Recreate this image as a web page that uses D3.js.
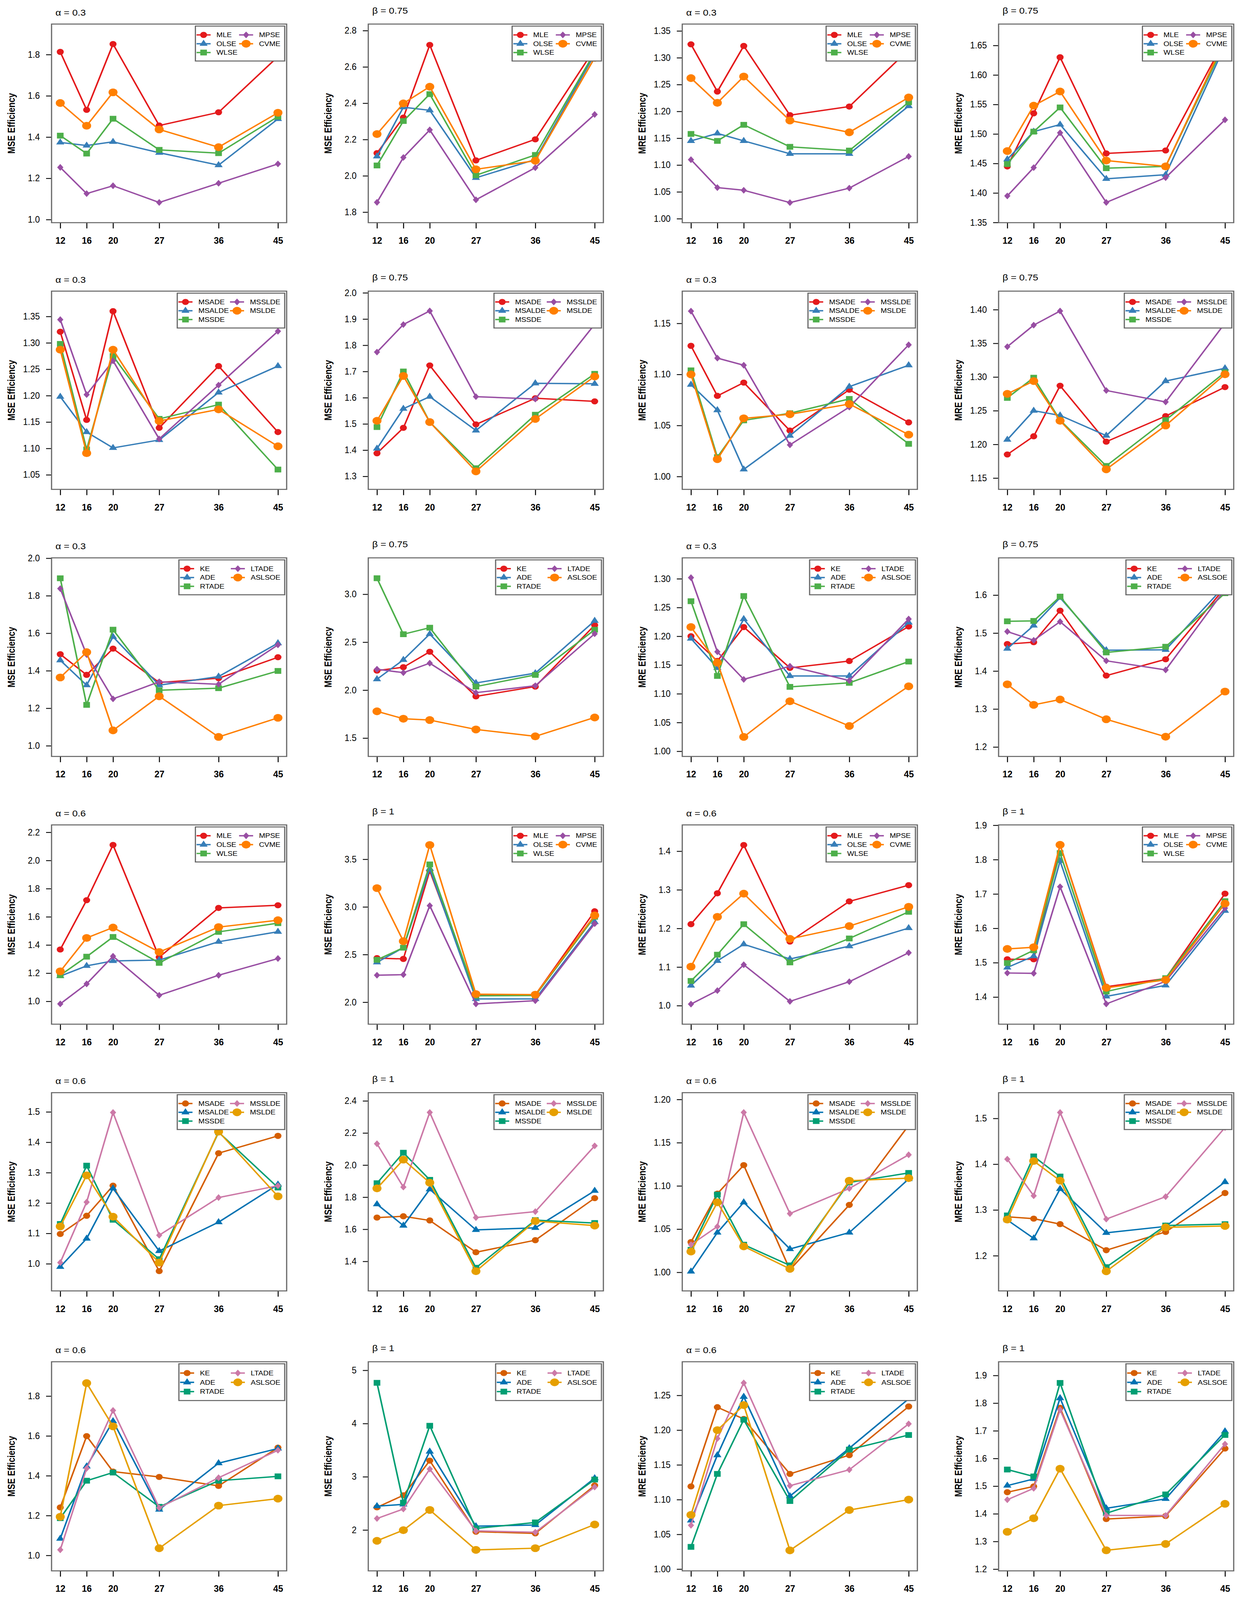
<!DOCTYPE html>
<html>
<head>
<meta charset="utf-8">
<script src="https://cdn.jsdelivr.net/npm/d3@7"></script>
<style>
  body { margin: 0; background: #fff; overflow: hidden; }
  svg { display: block; }
</style>
</head>
<body>
<div id="chart"></div>
<script>
// sample sizes on the x axis
const sampleSizes = [12, 16, 20, 27, 36, 45];

// estimator names (legend order)
const namesClassic  = ["MLE", "OLSE", "WLSE", "MPSE", "CVME"];
const namesMinDist  = ["MSADE", "MSALDE", "MSSDE", "MSSLDE", "MSLDE"];
const namesAnderson = ["KE", "ADE", "RTADE", "LTADE", "ASLSOE"];

const set1Colors  = ["#E41A1C", "#377EB8", "#4DAF4A", "#984EA3", "#FF7F00"];
const okabeColors = ["#D55E00", "#0072B2", "#009E73", "#CC79A7", "#E69F00"];

// ---- row 1 : classic estimators, alpha = 0.3 / beta = 0.75
const mseAlpha03Classic = [
  [1.813, 1.532, 1.851, 1.456, 1.520, 1.790],
  [1.374, 1.359, 1.377, 1.324, 1.264, 1.488],
  [1.407, 1.320, 1.489, 1.338, 1.322, 1.499],
  [1.253, 1.126, 1.164, 1.083, 1.176, 1.270],
  [1.565, 1.455, 1.617, 1.437, 1.351, 1.518]];
const mseBeta075Classic = [
  [2.125, 2.321, 2.721, 2.085, 2.201, 2.700],
  [2.107, 2.378, 2.361, 1.989, 2.090, 2.670],
  [2.057, 2.302, 2.450, 2.003, 2.115, 2.680],
  [1.854, 2.101, 2.253, 1.868, 2.045, 2.338],
  [2.230, 2.399, 2.491, 2.036, 2.083, 2.650]];
const mreAlpha03Classic = [
  [1.325, 1.237, 1.322, 1.193, 1.209, 1.315],
  [1.145, 1.159, 1.145, 1.121, 1.121, 1.210],
  [1.158, 1.145, 1.175, 1.134, 1.127, 1.217],
  [1.110, 1.058, 1.053, 1.030, 1.057, 1.116],
  [1.262, 1.216, 1.265, 1.183, 1.161, 1.226]];
const mreBeta075Classic = [
  [1.445, 1.535, 1.630, 1.467, 1.472, 1.660],
  [1.457, 1.504, 1.516, 1.424, 1.431, 1.650],
  [1.449, 1.504, 1.545, 1.442, 1.445, 1.655],
  [1.395, 1.443, 1.502, 1.384, 1.426, 1.524],
  [1.471, 1.548, 1.572, 1.455, 1.445, 1.660]];

// ---- row 2 : minimum distance estimators, alpha = 0.3 / beta = 0.75
const mseAlpha03MinDist = [
  [1.321, 1.154, 1.360, 1.139, 1.256, 1.131],
  [1.198, 1.131, 1.101, 1.116, 1.206, 1.256],
  [1.298, 1.098, 1.275, 1.156, 1.183, 1.060],
  [1.344, 1.202, 1.266, 1.118, 1.220, 1.322],
  [1.287, 1.091, 1.287, 1.152, 1.174, 1.104]];
const mseBeta075MinDist = [
  [1.388, 1.485, 1.723, 1.498, 1.598, 1.586],
  [1.406, 1.558, 1.604, 1.475, 1.655, 1.653],
  [1.488, 1.700, 1.507, 1.331, 1.535, 1.691],
  [1.774, 1.879, 1.931, 1.604, 1.595, 1.880],
  [1.512, 1.683, 1.507, 1.319, 1.519, 1.681]];
const mreAlpha03MinDist = [
  [1.128, 1.079, 1.092, 1.045, 1.085, 1.053],
  [1.090, 1.065, 1.007, 1.040, 1.088, 1.109],
  [1.104, 1.019, 1.055, 1.062, 1.076, 1.032],
  [1.162, 1.116, 1.109, 1.031, 1.068, 1.129],
  [1.100, 1.017, 1.057, 1.061, 1.071, 1.041]];
const mreBeta075MinDist = [
  [1.185, 1.212, 1.287, 1.204, 1.242, 1.285],
  [1.207, 1.250, 1.243, 1.213, 1.294, 1.313],
  [1.269, 1.299, 1.236, 1.168, 1.236, 1.307],
  [1.345, 1.377, 1.398, 1.280, 1.263, 1.380],
  [1.275, 1.294, 1.235, 1.163, 1.228, 1.304]];

// ---- row 3 : Anderson-Darling type estimators, alpha = 0.3 / beta = 0.75
const mseAlpha03Anderson = [
  [1.488, 1.378, 1.518, 1.337, 1.360, 1.472],
  [1.456, 1.323, 1.581, 1.323, 1.369, 1.547],
  [1.893, 1.218, 1.619, 1.296, 1.307, 1.399],
  [1.838, 1.486, 1.250, 1.341, 1.328, 1.538],
  [1.364, 1.499, 1.082, 1.264, 1.047, 1.149]];
const mseBeta075Anderson = [
  [2.204, 2.239, 2.400, 1.935, 2.037, 2.678],
  [2.114, 2.316, 2.585, 2.075, 2.177, 2.723],
  [3.167, 2.583, 2.651, 2.037, 2.159, 2.630],
  [2.218, 2.182, 2.281, 1.974, 2.046, 2.588],
  [1.779, 1.702, 1.688, 1.590, 1.518, 1.715]];
const mreAlpha03Anderson = [
  [1.200, 1.157, 1.216, 1.145, 1.157, 1.217],
  [1.196, 1.145, 1.230, 1.131, 1.131, 1.224],
  [1.261, 1.131, 1.270, 1.112, 1.119, 1.156],
  [1.302, 1.173, 1.125, 1.148, 1.123, 1.230],
  [1.216, 1.154, 1.025, 1.087, 1.044, 1.113]];
const mreBeta075Anderson = [
  [1.471, 1.476, 1.559, 1.388, 1.431, 1.620],
  [1.459, 1.520, 1.593, 1.455, 1.456, 1.625],
  [1.531, 1.532, 1.596, 1.449, 1.464, 1.605],
  [1.504, 1.481, 1.530, 1.427, 1.403, 1.615],
  [1.365, 1.311, 1.325, 1.273, 1.227, 1.346]];

// ---- row 4 : classic estimators, alpha = 0.6 / beta = 1
const mseAlpha06Classic = [
  [1.368, 1.718, 2.110, 1.313, 1.663, 1.682],
  [1.179, 1.252, 1.287, 1.293, 1.423, 1.494],
  [1.185, 1.317, 1.457, 1.273, 1.493, 1.555],
  [0.982, 1.124, 1.320, 1.043, 1.185, 1.304],
  [1.213, 1.450, 1.524, 1.350, 1.527, 1.576]];
const mseBeta1Classic = [
  [2.463, 2.454, 3.379, 2.079, 2.076, 2.954],
  [2.418, 2.572, 3.401, 2.034, 2.034, 2.842],
  [2.445, 2.572, 3.446, 2.067, 2.070, 2.896],
  [2.283, 2.289, 3.013, 1.982, 2.016, 2.824],
  [3.197, 2.640, 3.650, 2.085, 2.079, 2.911]];
const mreAlpha06Classic = [
  [1.211, 1.291, 1.416, 1.166, 1.270, 1.312],
  [1.052, 1.116, 1.159, 1.121, 1.154, 1.201],
  [1.064, 1.132, 1.211, 1.112, 1.174, 1.243],
  [1.004, 1.039, 1.106, 1.011, 1.062, 1.137],
  [1.101, 1.230, 1.290, 1.173, 1.206, 1.256]];
const mreBeta1Classic = [
  [1.510, 1.510, 1.843, 1.430, 1.454, 1.701],
  [1.486, 1.519, 1.796, 1.402, 1.434, 1.651],
  [1.499, 1.536, 1.819, 1.416, 1.455, 1.679],
  [1.470, 1.469, 1.721, 1.380, 1.446, 1.659],
  [1.540, 1.545, 1.843, 1.427, 1.450, 1.672]];

// ---- row 5 : minimum distance estimators, alpha = 0.6 / beta = 1
const mseAlpha06MinDist = [
  [1.098, 1.158, 1.257, 0.976, 1.364, 1.421],
  [0.990, 1.083, 1.248, 1.042, 1.137, 1.261],
  [1.131, 1.323, 1.145, 1.015, 1.433, 1.251],
  [1.004, 1.203, 1.498, 1.094, 1.218, 1.257],
  [1.123, 1.291, 1.155, 1.004, 1.435, 1.222]];
const mseBeta1MinDist = [
  [1.673, 1.681, 1.655, 1.457, 1.532, 1.794],
  [1.756, 1.623, 1.849, 1.596, 1.609, 1.840],
  [1.887, 2.077, 1.908, 1.360, 1.657, 1.639],
  [2.133, 1.863, 2.328, 1.673, 1.710, 2.120],
  [1.855, 2.034, 1.890, 1.339, 1.651, 1.623]];
const mreAlpha06MinDist = [
  [1.035, 1.091, 1.124, 1.003, 1.078, 1.170],
  [1.001, 1.046, 1.081, 1.027, 1.046, 1.108],
  [1.026, 1.090, 1.032, 1.008, 1.104, 1.115],
  [1.032, 1.053, 1.185, 1.068, 1.097, 1.136],
  [1.024, 1.081, 1.030, 1.004, 1.106, 1.109]];
const mreBeta1MinDist = [
  [1.285, 1.281, 1.269, 1.212, 1.252, 1.337],
  [1.278, 1.238, 1.346, 1.250, 1.264, 1.361],
  [1.288, 1.417, 1.373, 1.175, 1.266, 1.269],
  [1.411, 1.331, 1.513, 1.280, 1.329, 1.480],
  [1.279, 1.407, 1.364, 1.166, 1.262, 1.265]];

// ---- row 6 : Anderson-Darling type estimators, alpha = 0.6 / beta = 1
const mseAlpha06Anderson = [
  [1.241, 1.599, 1.421, 1.394, 1.349, 1.541],
  [1.084, 1.447, 1.674, 1.230, 1.463, 1.537],
  [1.187, 1.375, 1.416, 1.244, 1.375, 1.397],
  [1.028, 1.437, 1.728, 1.239, 1.390, 1.528],
  [1.194, 1.865, 1.648, 1.036, 1.250, 1.285]];
const mseBeta1Anderson = [
  [2.426, 2.652, 3.303, 1.968, 1.936, 2.836],
  [2.448, 2.481, 3.474, 2.071, 2.094, 2.974],
  [4.765, 2.513, 3.958, 2.029, 2.142, 2.948],
  [2.216, 2.394, 3.145, 1.984, 1.958, 2.807],
  [1.797, 1.997, 2.377, 1.626, 1.658, 2.103]];
const mreAlpha06Anderson = [
  [1.119, 1.233, 1.216, 1.137, 1.164, 1.234],
  [1.070, 1.164, 1.248, 1.105, 1.174, 1.245],
  [1.032, 1.137, 1.215, 1.098, 1.172, 1.193],
  [1.063, 1.188, 1.268, 1.120, 1.143, 1.209],
  [1.078, 1.200, 1.236, 1.027, 1.085, 1.100]];
const mreBeta1Anderson = [
  [1.478, 1.499, 1.783, 1.381, 1.392, 1.636],
  [1.502, 1.526, 1.818, 1.420, 1.454, 1.698],
  [1.560, 1.535, 1.873, 1.402, 1.470, 1.685],
  [1.451, 1.492, 1.776, 1.394, 1.394, 1.652],
  [1.335, 1.384, 1.563, 1.268, 1.291, 1.436]];

// y axis limits (as drawn) and tick labels, panel by panel (row by row)
const yLimits = [
  [0.985, 1.948], [1.742, 2.836], [0.9926, 1.3628], [1.3497, 1.6863],
  [1.0224, 1.398], [1.2503, 2.0065], [0.9874, 1.1816], [1.1332, 1.4275],
  [0.943, 2.002], [1.3085, 3.3795], [0.991, 1.3364], [1.1751, 1.6981],
  [0.8378, 2.2524], [1.7692, 3.8606], [0.952, 1.4681], [1.321, 1.901],
  [0.9107, 1.5633], [1.216, 2.4513], [0.9785, 1.2079], [1.1231, 1.5563],
  [0.9224, 1.9724], [1.2323, 5.161], [0.9975, 1.2984], [1.1938, 1.9496]];
const yTickLabels = [
  ["1.0","1.2","1.4","1.6","1.8"], ["1.8","2.0","2.2","2.4","2.6","2.8"],
  ["1.00","1.05","1.10","1.15","1.20","1.25","1.30","1.35"], ["1.35","1.40","1.45","1.50","1.55","1.60","1.65"],
  ["1.05","1.10","1.15","1.20","1.25","1.30","1.35"], ["1.3","1.4","1.5","1.6","1.7","1.8","1.9","2.0"],
  ["1.00","1.05","1.10","1.15"], ["1.15","1.20","1.25","1.30","1.35","1.40"],
  ["1.0","1.2","1.4","1.6","1.8","2.0"], ["1.5","2.0","2.5","3.0"],
  ["1.00","1.05","1.10","1.15","1.20","1.25","1.30"], ["1.2","1.3","1.4","1.5","1.6"],
  ["1.0","1.2","1.4","1.6","1.8","2.0","2.2"], ["2.0","2.5","3.0","3.5"],
  ["1.0","1.1","1.2","1.3","1.4"], ["1.4","1.5","1.6","1.7","1.8","1.9"],
  ["1.0","1.1","1.2","1.3","1.4","1.5"], ["1.4","1.6","1.8","2.0","2.2","2.4"],
  ["1.00","1.05","1.10","1.15","1.20"], ["1.2","1.3","1.4","1.5"],
  ["1.0","1.2","1.4","1.6","1.8"], ["2","3","4","5"],
  ["1.00","1.05","1.10","1.15","1.20","1.25"], ["1.2","1.3","1.4","1.5","1.6","1.7","1.8","1.9"]];

const rowParams = [["α = 0.3", "β = 0.75"], ["α = 0.3", "β = 0.75"], ["α = 0.3", "β = 0.75"],
                   ["α = 0.6", "β = 1"], ["α = 0.6", "β = 1"], ["α = 0.6", "β = 1"]];
const rowNames  = [namesClassic, namesMinDist, namesAnderson, namesClassic, namesMinDist, namesAnderson];
const rowColors = [set1Colors, set1Colors, set1Colors, set1Colors, okabeColors, okabeColors];
const colLabels = ["MSE Efficiency", "MSE Efficiency", "MRE Efficiency", "MRE Efficiency"];

const panelData = [
  mseAlpha03Classic, mseBeta075Classic, mreAlpha03Classic, mreBeta075Classic,
  mseAlpha03MinDist, mseBeta075MinDist, mreAlpha03MinDist, mreBeta075MinDist,
  mseAlpha03Anderson, mseBeta075Anderson, mreAlpha03Anderson, mreBeta075Anderson,
  mseAlpha06Classic, mseBeta1Classic, mreAlpha06Classic, mreBeta1Classic,
  mseAlpha06MinDist, mseBeta1MinDist, mreAlpha06MinDist, mreBeta1MinDist,
  mseAlpha06Anderson, mseBeta1Anderson, mreAlpha06Anderson, mreBeta1Anderson];

// layout, in the coordinates of the 3170 x 4721 original
const width = 3170, height = 4721;
const boxLeft = [132, 943, 1747, 2557];
const boxWidth = 602;
const rowTop = [71, 859, 1646, 2434, 3224, 4018];
const rowHeight = [586, 585, 586, 588, 585, 617];
const shapes = ["circle", "triangle", "square", "diamond", "bigcircle"];
const SANS = "'Liberation Sans',Arial,Helvetica,sans-serif";
const frameColor = "#666";

// the window may be shorter than the figure: fit the whole figure into it
const viewH = Math.min(height, window.innerHeight || height);

var svg = d3.select('#chart')
  .append('svg')
  .attr('width', width)
  .attr('height', viewH)
  .attr('viewBox', `0 0 ${width} ${height}`)
  .attr('preserveAspectRatio', 'none')
  .style('background', '#fff');

// squeeze text horizontally to mimic a narrow face (Helvetica Narrow)
function narrow(sel) {
  sel.each(function() {
    const w = this.getComputedTextLength();
    d3.select(this).attr('textLength', w * 0.82).attr('lengthAdjust', 'spacingAndGlyphs');
  });
}

function drawMarker(g, shape, cx, cy, color) {
  if (shape === "circle" || shape === "bigcircle") {
    g.append('circle').attr('cx', cx).attr('cy', cy)
      .attr('r', shape === "circle" ? 9 : 11.5).attr('fill', color);
  } else if (shape === "triangle") {
    g.append('path')
      .attr('d', `M${cx},${cy - 12}L${cx + 10.5},${cy + 6}L${cx - 10.5},${cy + 6}Z`)
      .attr('fill', color);
  } else if (shape === "square") {
    g.append('rect').attr('x', cx - 8.5).attr('y', cy - 8.5)
      .attr('width', 17).attr('height', 17).attr('fill', color);
  } else {
    g.append('path')
      .attr('d', `M${cx},${cy - 10}L${cx + 8},${cy}L${cx},${cy + 10}L${cx - 8},${cy}Z`)
      .attr('fill', color);
  }
}

function textWidth(str, size) {
  const t = svg.append('text').attr('font-family', SANS).attr('font-size', size).text(str);
  const w = t.node().getComputedTextLength();
  t.remove();
  return w;
}

panelData.forEach(function(series, i) {
  const r = Math.floor(i / 4), c = i % 4;
  const left = boxLeft[c], right = left + boxWidth;
  const top = rowTop[r], bottom = top + rowHeight[r];
  const names = rowNames[r], colors = rowColors[r];
  const ticks = yTickLabels[i];
  const tickVals = ticks.map(Number);

  const x = d3.scaleLinear().domain([10.68, 46.32]).range([left, right]);
  const y = d3.scaleLinear().domain(yLimits[i]).range([bottom, top]);

  const panel = svg.append('g');

  // y axis
  const yAxis = panel.append('g')
    .attr('transform', `translate(${left},0)`)
    .call(d3.axisLeft(y)
      .tickValues(tickVals)
      .tickFormat(d => ticks[tickVals.indexOf(d)])
      .tickSize(14).tickPadding(16));
  yAxis.select('.domain').remove();
  yAxis.selectAll('line').attr('stroke', '#000').attr('stroke-width', 2.5);
  yAxis.selectAll('text')
    .attr('font-family', SANS).attr('font-size', 27).attr('fill', '#000')
    .call(narrow);

  // x axis
  const xAxis = panel.append('g')
    .attr('transform', `translate(0,${bottom})`)
    .call(d3.axisBottom(x).tickValues(sampleSizes).tickFormat(d3.format('d')).tickSize(17));
  xAxis.select('.domain').remove();
  xAxis.selectAll('line').attr('stroke', '#000').attr('stroke-width', 2.5);
  xAxis.selectAll('text')
    .attr('y', 52).attr('dy', '0.36em')
    .attr('font-family', SANS).attr('font-size', 28)
    .attr('font-weight', 'bold').attr('fill', '#000')
    .call(narrow);

  // clip to the plot region
  const clipId = 'clip' + i;
  svg.append('clipPath').attr('id', clipId)
    .append('rect').attr('x', left).attr('y', top)
    .attr('width', boxWidth).attr('height', bottom - top);
  const plot = panel.append('g').attr('clip-path', `url(#${clipId})`);

  const line = d3.line()
    .x((d, k) => x(sampleSizes[k]))
    .y(d => y(d));

  series.forEach(function(vals, s) {
    plot.append('path')
      .attr('d', line(vals))
      .attr('fill', 'none')
      .attr('stroke', colors[s])
      .attr('stroke-width', 4)
      .attr('stroke-linejoin', 'round');
    vals.forEach(function(v, k) {
      drawMarker(plot, shapes[s], x(sampleSizes[k]), y(v), colors[s]);
    });
  });

  // legend (two columns, filled column-wise)
  const sc = rowHeight[r] / 586;
  const fs = 19;
  const maxW = d3.max(names, n => textWidth(n, fs));
  const col2 = 54 + maxW + 3;
  const lgW = col2 + 51 + maxW + 11;
  const lgH = 103 * sc;
  const lgLeft = right - 5 - lgW, lgTop = top + 6;
  const lg = panel.append('g').attr('transform', `translate(${lgLeft},${lgTop})`);
  lg.append('rect')
    .attr('width', lgW).attr('height', lgH)
    .attr('fill', '#fff').attr('stroke', frameColor).attr('stroke-width', 3);
  names.forEach(function(n, k) {
    const cx0 = k < 3 ? 3 : col2;
    const cy = 26 * sc * ((k < 3 ? k : k - 3) + 1);
    lg.append('line')
      .attr('x1', cx0).attr('x2', cx0 + 36).attr('y1', cy).attr('y2', cy)
      .attr('stroke', colors[k]).attr('stroke-width', 4);
    drawMarker(lg, shapes[k], cx0 + 18, cy, colors[k]);
    lg.append('text')
      .attr('x', cx0 + 51).attr('y', cy).attr('dy', '0.35em')
      .attr('font-family', SANS).attr('font-size', fs).attr('fill', '#000')
      .text(n);
  });

  // frame
  panel.append('rect')
    .attr('x', left).attr('y', top)
    .attr('width', boxWidth).attr('height', bottom - top)
    .attr('fill', 'none').attr('stroke', frameColor).attr('stroke-width', 3);

  // title
  panel.append('text')
    .attr('x', left + 10)
    .attr('y', top - (c % 2 === 0 ? 25 : 31))
    .attr('font-family', SANS).attr('font-size', 25).attr('fill', '#000')
    .text(rowParams[r][c % 2]);

  // y label
  panel.append('text')
    .attr('transform', `translate(${left - 103},${(top + bottom) / 2}) rotate(-90)`)
    .attr('text-anchor', 'middle').attr('dy', '0.35em')
    .attr('font-family', SANS)
    .attr('font-weight', 'bold').attr('font-size', 25).attr('fill', '#000')
    .text(colLabels[c]);
});
</script>
</body>
</html>
